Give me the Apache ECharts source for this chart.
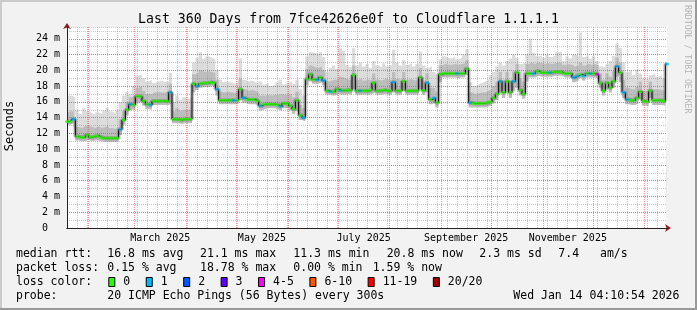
<!DOCTYPE html>
<html><head><meta charset="utf-8">
<script src="https://cdn.jsdelivr.net/npm/echarts@6/dist/echarts.min.js"></script>
<style>html,body{margin:0;padding:0;background:#f2f2f2}#c{width:697px;height:310px}</style>
</head><body><div id="c"></div>
<script>
// ---------------- data (one sample every 2 days, day 0 = Jan 19 2025) ----------------
const STEP_DAYS = 2;
const median = [
13.5,13.5,13.8,11.6,11.5,11.5,11.8,11.5,11.6,11.7,
11.5,11.4,11.4,11.4,11.4,11.4,12.5,13.7,15.0,15.7,
15.6,16.7,16.7,16.1,15.7,15.6,16.1,16.1,16.1,16.1,
16.1,17.2,13.8,13.8,13.7,13.8,13.8,13.8,18.3,18.0,
18.3,18.4,18.4,18.5,18.4,17.6,16.2,16.2,16.2,16.2,
16.2,16.2,17.6,16.5,16.3,16.3,16.3,16.1,15.5,15.7,
15.7,15.7,15.7,15.6,15.4,15.8,15.8,15.5,15.1,16.2,
14.3,14.0,18.9,19.5,18.85,18.8,19.1,18.7,17.4,17.3,
17.3,17.6,17.45,17.45,17.5,17.45,19.4,17.4,17.4,17.4,
17.4,17.5,18.4,17.4,17.4,17.5,17.4,17.4,18.5,17.4,
17.4,18.6,17.4,17.4,17.4,17.4,19.1,17.45,18.4,16.3,
16.5,15.9,19.5,19.6,19.6,19.6,19.6,19.6,19.6,19.6,
20.2,15.9,15.8,15.8,15.8,15.8,15.9,16.0,16.5,17.0,
18.6,17.2,18.6,17.2,18.6,19.7,17.5,17.0,19.6,19.6,
19.6,19.9,19.7,19.7,19.7,19.7,19.8,19.8,19.8,19.6,
19.6,19.6,19.1,19.3,19.5,19.3,19.6,19.6,19.6,19.5,
18.4,17.4,18.4,17.8,18.6,20.5,19.7,17.2,16.3,16.2,
16.2,16.5,17.3,16.1,16.0,17.4,16.2,16.2,16.2,16.1,
20.8];
const lossCount = [
0,0,1,0,0,0,0,0,0,0,
0,0,0,0,0,0,1,0,0,1,
0,0,0,0,0,1,0,0,0,0,
0,1,0,0,0,0,0,0,0,1,
0,0,0,0,0,1,0,0,0,0,
1,0,0,1,0,0,0,0,1,0,
0,0,0,0,1,0,0,0,0,0,
0,1,0,0,0,1,0,1,0,1,
0,0,1,0,0,0,0,0,1,0,
0,0,0,0,0,0,0,0,1,0,
0,0,0,0,0,0,0,0,1,0,
1,0,0,0,0,0,0,1,0,0,
0,1,0,0,0,0,0,0,0,0,
1,0,0,0,1,0,0,0,0,0,
1,0,0,0,0,1,0,0,0,0,
0,0,1,1,0,1,0,1,0,4,
0,0,0,0,0,1,0,1,1,0,
0,0,0,0,0,0,0,0,0,0,
1];
const smokeLo = [
13.1,13.1,13.3,11.1,11.0,11.0,11.2,11.0,11.1,11.1,
11.0,10.9,10.9,10.9,10.9,10.9,11.8,13.1,14.3,15.0,
15.0,15.9,16.0,15.5,15.1,15.0,15.6,15.6,15.6,15.6,
15.6,15.8,13.3,13.3,13.2,13.3,13.3,13.3,17.2,17.5,
17.8,17.9,17.9,18.0,17.9,16.8,15.7,15.7,15.7,15.7,
15.7,15.7,16.2,15.9,15.7,15.7,15.7,15.5,14.9,15.1,
15.2,15.2,15.2,15.0,14.8,15.2,15.2,14.9,14.5,14.8,
13.7,13.5,18.1,18.6,18.3,18.3,18.5,18.1,16.9,16.8,
16.8,17.0,16.9,16.9,17.0,16.9,17.6,16.9,16.9,16.9,
16.9,17.0,17.2,16.9,16.9,17.0,16.9,16.9,17.2,16.9,
16.9,17.4,16.9,16.9,16.9,16.9,17.6,16.9,17.2,15.7,
15.9,15.3,18.5,19.1,19.1,19.1,19.1,19.0,19.1,19.1,
19.4,15.3,15.3,15.3,15.3,15.3,15.4,15.5,15.8,16.2,
17.2,16.5,17.2,16.5,17.4,17.8,16.8,16.4,18.6,19.1,
19.1,19.3,19.2,19.2,19.2,19.2,19.3,19.3,19.3,19.1,
19.1,19.1,18.5,18.7,19.0,18.7,19.1,19.1,19.1,18.9,
17.8,16.8,17.6,17.2,17.8,19.2,18.5,16.5,15.7,15.6,
15.6,15.8,16.3,15.5,15.4,16.5,15.6,15.6,15.6,15.5,
17.5];
const smokeMid = [
14.6,14.8,14.8,12.8,12.7,12.9,13.0,12.8,12.7,12.9,
12.7,12.8,13.0,12.7,12.6,12.8,13.8,14.8,16.0,16.6,
16.8,17.8,18.0,17.4,17.0,17.0,17.2,17.3,17.2,17.2,
17.3,18.3,14.8,15.2,14.9,15.0,15.0,15.0,19.5,19.7,
20.0,19.8,19.9,19.8,19.7,18.8,17.3,17.2,17.3,17.2,
17.2,17.3,19.0,17.6,17.4,17.5,17.4,17.2,16.8,16.8,
16.9,16.8,16.9,16.9,17.0,16.9,17.0,17.0,16.6,17.3,
15.6,15.2,20.2,20.6,20.4,20.3,20.5,20.0,18.6,18.7,
18.8,18.8,19.2,19.0,18.8,18.8,20.6,18.8,19.0,18.7,
18.8,18.8,19.6,18.8,18.7,18.9,18.8,18.8,19.8,18.9,
18.8,19.8,18.8,18.9,18.7,18.8,20.3,18.7,19.6,17.8,
17.8,17.3,20.6,20.8,20.7,20.7,20.8,20.7,20.8,20.9,
21.3,17.2,17.0,17.1,17.2,17.2,17.4,17.6,18.0,18.6,
19.8,18.8,19.8,18.8,19.9,20.8,19.0,18.6,20.8,21.0,
20.8,21.0,20.9,20.8,20.9,20.8,20.9,21.0,21.0,20.7,
20.8,20.7,20.5,20.6,21.0,20.6,20.8,20.7,20.8,20.6,
19.6,18.8,19.6,19.2,19.9,21.6,21.0,18.8,17.8,17.6,
17.6,17.9,18.6,17.4,17.3,18.6,17.6,17.6,17.5,17.4,
19.5];
const smokeHi = [
16.5,16.8,16.6,15.0,14.5,15.2,14.8,14.6,14.4,14.7,
14.5,14.9,15.3,14.8,14.6,15.0,16.0,16.8,17.3,17.0,
18.0,19.3,19.5,19.0,18.6,18.8,18.4,18.6,18.7,18.5,
18.6,19.7,16.0,16.8,16.2,16.6,16.4,16.5,21.0,21.6,
22.3,21.5,21.8,21.6,21.4,20.0,18.8,18.5,18.6,18.4,
18.3,18.5,21.5,18.8,18.6,18.7,18.5,18.3,18.6,18.2,
18.4,18.0,18.2,18.5,18.8,18.2,18.4,18.6,18.3,18.8,
17.6,16.8,21.8,22.3,22.2,22.0,22.3,21.7,19.8,20.3,
20.6,20.2,22.8,22.5,20.7,20.4,22.8,20.6,21.0,20.5,
20.8,20.3,21.2,20.6,20.4,20.9,20.5,20.7,22.6,21.0,
20.6,21.3,20.7,20.9,20.5,20.8,22.4,20.6,20.3,20.5,
19.8,19.5,21.4,21.8,21.6,21.5,21.7,21.4,21.6,22.0,
22.7,18.5,18.0,18.2,18.4,18.6,18.8,19.4,19.8,20.5,
21.0,20.6,21.2,21.5,22.0,21.6,20.8,21.0,22.0,24.0,
22.2,21.8,21.9,21.6,22.0,21.7,21.9,22.3,22.4,21.2,
21.8,21.5,22.0,21.8,24.8,21.7,21.9,21.5,21.8,21.2,
20.5,20.4,20.8,21.2,21.8,23.4,22.8,21.0,19.8,20.0,
19.4,20.1,19.6,19.0,18.9,19.4,19.6,19.2,19.4,19.0,
21.0];

const yMax = 25.5;
const xMaxDays = 360;
const monthLabels = ['March 2025','May 2025','July 2025','September 2025','November 2025'];
const monthLabelMonths = [2,4,6,8,10];           // 0-based month index in 2025
const lossLabels = ['0','1','2','3','4-5','6-10','11-19','20/20'];
const lossColors = ['#26ff00','#00b8ff','#0059ff','#5e00ff','#ff00ff','#ff5500','#ff0000','#a10000'];
const title = 'Last 360 Days from 7fce42626e0f to Cloudflare 1.1.1.1';
const legendRows = [
  [['median rtt:',16],['16.8 ms avg',107.3],['21.1 ms max',200],['11.3 ms min',293.3],['20.8 ms now',386.7],['2.3 ms sd',479.3],['7.4',558.3],['am/s',600]],
  [['packet loss:',16],['0.15 % avg',107.3],['18.78 % max',200],['0.00 % min',293.3],['1.59 % now',372.7]],
  [['loss color:',16]],
  [['probe:',16],['20 ICMP Echo Pings (56 Bytes) every 300s',107.3],['Wed Jan 14 04:10:54 2026',513.3]]
];

// ---------------- helpers ----------------
const T0 = Date.UTC(2025,0,19,12,40);
const dayOf = (y,m,d) => (Date.UTC(y,m,d) - T0) / 864e5;
const monthStarts = [];
for (let m = 1; m <= 12; m++) monthStarts.push(dayOf(2025, m, 1));
const labelDays = monthLabelMonths.map(m => (dayOf(2025, m, 1) + dayOf(2025, m + 1, 1)) / 2);

const xs = median.map((_, i) => i * STEP_DAYS);
const pairs = arr => arr.map((v, i) => [xs[i], v]);
function lossColor(n){
  if (n <= 3) return lossColors[n];
  if (n <= 5) return lossColors[4];
  if (n <= 10) return lossColors[5];
  if (n <= 19) return lossColors[6];
  return lossColors[7];
}

const MONO = 'DejaVu Sans Mono';
const minorGrid = 'rgba(143,143,143,0.5)';
const majorGrid = 'rgba(222,80,80,0.6)';
const arrowColor = '#8b1f1f';
const axisColor = '#222';

// ---------------- graphics (frame, title, legend) ----------------
const graphics = [
  {type:'rect', shape:{x:0,y:0,width:697,height:2}, style:{fill:'#cbcbcb'}, silent:true},
  {type:'rect', shape:{x:0,y:0,width:2,height:310}, style:{fill:'#cbcbcb'}, silent:true},
  {type:'rect', shape:{x:695,y:0,width:2,height:310}, style:{fill:'#999999'}, silent:true},
  {type:'rect', shape:{x:0,y:308,width:697,height:2}, style:{fill:'#999999'}, silent:true},
  {type:'text', x:348.5, y:19.5, style:{text:title, fill:'#000', font:'13.2px "'+MONO+'"', textAlign:'center', textVerticalAlign:'middle'}, silent:true},
  {type:'text', x:10, y:126, rotation:Math.PI/2, style:{text:'Seconds', fill:'#000', font:'12px "'+MONO+'"', textAlign:'center', textVerticalAlign:'middle'}, silent:true},
  {type:'text', x:687.5, y:5, rotation:-Math.PI/2, style:{text:'RRDTOOL / TOBI OETIKER', fill:'#b4b4b4', font:'8.2px "'+MONO+'"', textAlign:'left', textVerticalAlign:'middle'}, silent:true}
];
const rowY = [254.3, 268.3, 282.3, 296];
legendRows.forEach((row, r) => {
  row.forEach(([t, x]) => graphics.push({type:'text', x:x, y:rowY[r], silent:true,
    style:{text:t, fill:'#000', font:'11.5px "'+MONO+'"', textAlign:'left', textVerticalAlign:'middle'}}));
});
let bx = 108.3;
const CHAR_W = 6.94;
lossLabels.forEach((lab, i) => {
  graphics.push({type:'rect', shape:{x:bx+0.5, y:277.5, width:6, height:9}, style:{fill:lossColors[i], stroke:'#000', lineWidth:1}, silent:true});
  graphics.push({type:'text', x:bx+15, y:rowY[2], silent:true,
    style:{text:lab, fill:'#000', font:'11.5px "'+MONO+'"', textAlign:'left', textVerticalAlign:'middle'}});
  bx += 30.5 + lab.length * CHAR_W;
});

// ---------------- chart ----------------
const chart = echarts.init(document.getElementById('c'), null, {renderer:'canvas'});
const gridLine = (c) => ({show:true, lineStyle:{color:c, width:1, type:[1,1]}});
chart.setOption({
  animation:false,
  backgroundColor:'#f2f2f2',
  grid:{left:67, right:30, top:27, bottom:82, show:true, backgroundColor:'#ffffff', borderWidth:0},
  xAxis:[
    {type:'value', min:0, max:xMaxDays, interval:6, position:'bottom', z:3,
     axisLine:{show:true, onZero:false, lineStyle:{color:axisColor, width:1}},
     axisTick:{show:false}, axisLabel:{show:false},
     splitLine:Object.assign(gridLine(minorGrid), {showMinLine:false, showMaxLine:false})},
    {type:'value', min:0, max:xMaxDays, position:'bottom', z:3,
     axisLine:{show:false}, axisTick:{show:false}, splitLine:{show:false},
     axisLabel:{show:true, customValues:labelDays, margin:5, color:'#000', fontSize:10, fontFamily:MONO,
       formatter:(v)=>{ let best=0; labelDays.forEach((d,i)=>{ if(Math.abs(d-v)<Math.abs(labelDays[best]-v)) best=i; }); return monthLabels[best]; }}},
    {type:'value', min:0, max:xMaxDays, position:'bottom', z:2,
     axisLine:{show:true, onZero:false, symbol:['none','arrow'], symbolSize:[6,6], symbolOffset:[0,4], lineStyle:{color:arrowColor, width:1}},
     axisTick:{show:false}, axisLabel:{show:false}, splitLine:{show:false}}
  ],
  yAxis:[
    {type:'value', min:0, max:yMax, interval:1, position:'left', z:3,
     axisLine:{show:false}, axisTick:{show:false}, axisLabel:{show:false},
     splitLine:Object.assign(gridLine(minorGrid), {showMinLine:false})},
    {type:'value', min:0, max:yMax, interval:2, position:'left', z:4,
     axisLine:{show:true, onZero:false, lineStyle:{color:axisColor, width:1}},
     axisTick:{show:false},
     axisLabel:{show:true, margin:7, color:'#000', fontSize:10, fontFamily:MONO, showMaxLabel:false,
       formatter:(v)=> v===0 ? '0  ' : (v % 2 === 0 ? v + ' m' : '')},
     splitLine:Object.assign(gridLine(majorGrid), {showMinLine:false, showMaxLine:false})},
    {type:'value', min:0, max:yMax, position:'left', z:2,
     axisLine:{show:true, onZero:false, symbol:['none','arrow'], symbolSize:[6,6], symbolOffset:[0,4], lineStyle:{color:arrowColor, width:1}},
     axisTick:{show:false}, axisLabel:{show:false}, splitLine:{show:false}}
  ],
  graphic:graphics,
  series:[
    {name:'smokeHi', type:'line', data:pairs(smokeHi), step:'middle', symbol:'none', z:1,
     lineStyle:{width:0}, areaStyle:{color:'#dcdcdc', opacity:1}},
    {name:'smokeMid', type:'line', data:pairs(smokeMid), step:'middle', symbol:'none', z:1,
     lineStyle:{width:0}, areaStyle:{color:'#bdbdbd', opacity:1}},
    {name:'smokeLo', type:'line', data:pairs(smokeLo), step:'middle', symbol:'none', z:1,
     lineStyle:{width:0}, areaStyle:{color:'#ffffff', opacity:1}},
    {name:'core', type:'line', data:pairs(median), step:'middle', symbol:'none', z:1,
     lineStyle:{width:4, color:'rgba(80,80,80,0.3)'}},
    {name:'months', type:'line', data:[], z:3,
     markLine:{silent:true, symbol:'none', label:{show:false},
       lineStyle:{color:majorGrid, width:1, type:[1,1]},
       data:monthStarts.map(d=>({xAxis:d}))}},
    {name:'median', type:'line', data:pairs(median), step:'middle', symbol:'none', z:5,
     lineStyle:{width:1, color:'#000'}},
    {name:'loss', type:'scatter', symbol:'rect', symbolSize:[3.6,2.6], z:6,
     data:median.map((v,i)=>({value:[xs[i], v], itemStyle:{color:lossColor(lossCount[i])}}))}
  ]
});
</script>
</body></html>
